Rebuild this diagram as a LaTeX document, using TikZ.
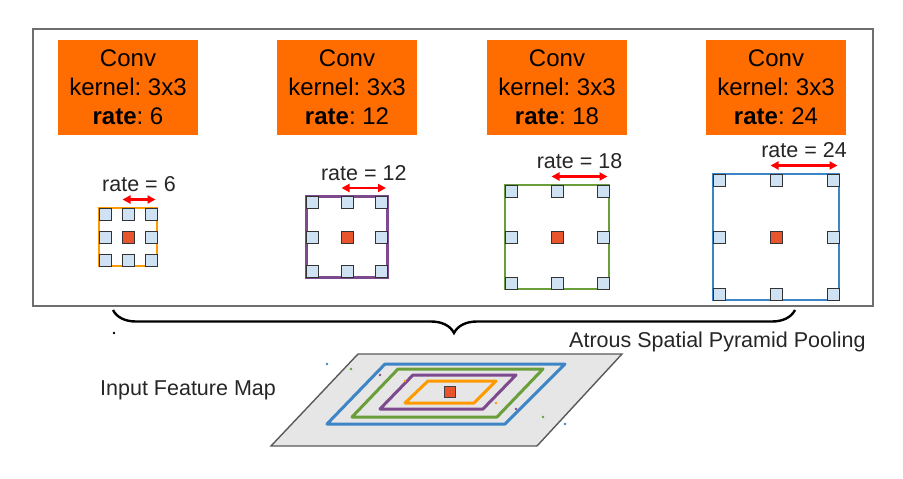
\documentclass[tikz,border=0pt]{standalone}
\usepackage{fontspec}
\setmainfont{Liberation Sans}
\usetikzlibrary{decorations.pathreplacing,arrows.meta}
\frenchspacing
\definecolor{convorange}{HTML}{FF6D01}
\definecolor{korange}{HTML}{FF9900}
\definecolor{kpurple}{HTML}{7E4A8E}
\definecolor{kgreen}{HTML}{6A9E3A}
\definecolor{kblue}{HTML}{3D85C6}
\definecolor{cellblue}{HTML}{CFE2F3}
\definecolor{cellred}{HTML}{E8542C}
\definecolor{framegray}{HTML}{6E6E6E}
\definecolor{mapgray}{HTML}{E6E6E6}
\begin{document}
\begin{tikzpicture}[x=1pt,y=-1pt,
  convbox/.style={fill=convorange, inner sep=0pt, minimum width=140pt, minimum height=95pt,
    align=center, font=\fontsize{24}{29}\selectfont},
  kframe/.style={line width=2.6pt, inner sep=0pt},
  cell/.style={draw=black!80, line width=1pt, fill=cellblue, minimum size=12pt, inner sep=0pt},
  centercell/.style={cell, fill=cellred},
  ratearrow/.style={red, line width=2.4pt, {Triangle[length=8pt,width=8pt]}-{Triangle[length=8pt,width=8pt]}},
  ratelabel/.style={inner sep=0pt, font=\fontsize{21.5}{25}\selectfont, text=black!85},
  plainlabel/.style={inner sep=0pt, font=\fontsize{21.5}{25}\selectfont, text=black!85},
  ring/.style={line width=3pt, line join=round},
  dotmark/.style={inner sep=0pt, minimum size=2.6pt, circle}
]
\useasboundingbox (0,0) rectangle (903,479);

% outer frame
\draw[framegray, line width=1.5pt] (33,29) rectangle (873,306);

% conv boxes and kernels
\foreach \i/\cx/\s/\col/\r in {1/128/58/korange/6, 2/347/81/kpurple/12, 3/557/104/kgreen/18, 4/776/126/kblue/24}{
  \node[convbox] (conv\i) at (\cx,87.5) {Conv\\kernel: 3x3\\\textbf{rate}: \r};
  \node[kframe, draw=\col, minimum size=\s pt] (k\i) at (\cx,237) {};
  \foreach \dx/\dy in {-1/-1,0/-1,1/-1,-1/0,1/0,-1/1,0/1,1/1}{
    \node[cell] (k\i c\dx\dy) at ({\cx+\dx*(\s/2-6)},{237+\dy*(\s/2-6)}) {};
  }
  \node[centercell] (k\i center) at (\cx,237) {};
  \coordinate (a\i) at ({\cx-5.5},{237-\s/2-8.5});
  \coordinate (b\i) at ({\cx+\s/2-1.5},{237-\s/2-8.5});
  \draw[ratearrow] (a\i) -- (b\i);
  \node[ratelabel, anchor=base] (l\i) at ({\cx+\s/4-3.5},{237-\s/2-16.5}) {rate = \r};
}

% brace
\coordinate (bl) at (113,310);
\coordinate (br) at (795,310);
\draw[decorate, decoration={brace, mirror, amplitude=23pt}, line width=2.4pt] (bl) -- (br);

\node[plainlabel, anchor=base west] (aspp) at (569,347.7) {Atrous Spatial Pyramid Pooling};
\node[plainlabel, anchor=base west] (ifm) at (100,395) {Input Feature Map};

% input feature map
\draw[fill=mapgray, draw=black!65, line width=1.4pt] (358,354) -- (622,354) -- (537,446) -- (271,446) -- cycle;
\draw[ring, kblue] (385,364) -- (565,364) -- (505,424) -- (327,424) -- cycle;
\draw[ring, kgreen] (398,369) -- (543,369) -- (497,417) -- (352,417) -- cycle;
\draw[ring, kpurple] (413,375) -- (516,375) -- (483,409) -- (380,409) -- cycle;
\draw[ring, korange] (428,381) -- (496,381) -- (474,403) -- (405,403) -- cycle;
\node[centercell, draw=black!75, minimum size=11pt] (mapcenter) at (449.5,392) {};

% stray dots
\node[dotmark, fill=black] (d0) at (114,333) {};
\node[dotmark, fill=kblue] (d1) at (327,364) {};
\node[dotmark, fill=kgreen] (d2) at (351,369) {};
\node[dotmark, fill=kpurple] (d3) at (380,375) {};
\node[dotmark, fill=korange] (d4) at (405,381) {};
\node[dotmark, fill=korange] (d5) at (496,403) {};
\node[dotmark, fill=kpurple] (d6) at (516,409) {};
\node[dotmark, fill=kgreen] (d7) at (543,417) {};
\node[dotmark, fill=kblue] (d8) at (565,424) {};
\end{tikzpicture}
\end{document}
